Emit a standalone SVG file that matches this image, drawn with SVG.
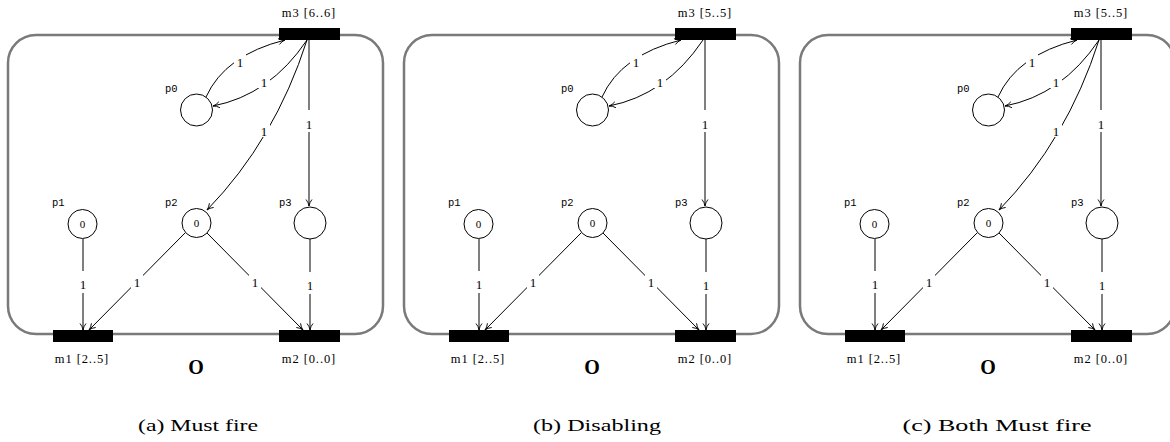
<svg xmlns="http://www.w3.org/2000/svg" width="1170" height="442" viewBox="0 0 1170 442">
<defs>
<marker id="arr" viewBox="0 0 8 8" refX="7.5" refY="4" markerWidth="8" markerHeight="8" markerUnits="userSpaceOnUse" orient="auto">
<path d="M1,1 Q4,3.5 7.5,4 Q4,4.5 1,7" fill="none" stroke="#000" stroke-width="0.9"/>
</marker>
<style>
.box{fill:none;stroke:#7a7a7a;stroke-width:2.5}
.tr{fill:#000;stroke:none}
.pl{fill:#fff;stroke:#000;stroke-width:1}
.arc{fill:none;stroke:#000;stroke-width:1;marker-end:url(#arr)}
.w{font-family:"Liberation Serif",serif;font-size:13px;text-anchor:middle;fill:#000}
.bg{fill:#fff}
.tl{font-family:"Liberation Serif",serif;font-size:12.5px;text-anchor:middle;fill:#000;letter-spacing:0.9px}
.pn{font-family:"Liberation Mono",monospace;font-size:10.5px;fill:#000}
.tk{font-family:"Liberation Serif",serif;font-size:11px;text-anchor:middle;fill:#000}
.O{font-family:"Liberation Serif",serif;font-size:20px;font-weight:bold;text-anchor:middle;fill:#000}
.cap{font-family:"Liberation Serif",serif;font-size:17px;text-anchor:middle;fill:#000}
</style>
</defs>

<!-- Panel a -->
<g id="panel-a">
<rect class="box" x="8" y="35" width="375" height="299" rx="28"/>
<g id="a-connectors">
<path class="arc" d="M206,97 Q225,55 285,40"/>
<path class="arc" d="M307,40 Q270,95 213,106"/>
<path class="arc" d="M307,40 Q275,140 207,210"/>
<path class="arc" d="M309,40 L309,206"/>
<path class="arc" d="M83,239 L83,330"/>
<path class="arc" d="M185,233 L89,330"/>
<path class="arc" d="M207,233 L303,330"/>
<path class="arc" d="M310,239 L310,330"/>
<rect class="bg" x="234" y="53" width="12" height="15"/><text class="w" x="240" y="67">1</text>
<rect class="bg" x="258" y="73" width="12" height="15"/><text class="w" x="264" y="87">1</text>
<rect class="bg" x="258" y="122" width="12" height="15"/><text class="w" x="264" y="136">1</text>
<rect class="bg" x="303" y="110" width="12" height="22"/><text class="w" x="309" y="129">1</text>
<rect class="bg" x="77" y="271" width="12" height="22"/><text class="w" x="83" y="289">1</text>
<rect class="bg" x="131" y="273" width="12" height="15"/><text class="w" x="137" y="287">1</text>
<rect class="bg" x="249" y="273" width="12" height="15"/><text class="w" x="255" y="287">1</text>
<rect class="bg" x="304" y="272" width="12" height="22"/><text class="w" x="310" y="290">1</text>
</g>
<g id="a-m3"><rect class="tr" x="279" y="28" width="61" height="12"/><text class="tl" x="309" y="17">m3 [6..6]</text></g>
<g id="a-m1"><rect class="tr" x="53" y="330" width="60" height="12"/><text class="tl" x="82" y="363">m1 [2..5]</text></g>
<g id="a-m2"><rect class="tr" x="279" y="330" width="61" height="12"/><text class="tl" x="309" y="363">m2 [0..0]</text></g>
<g id="a-p0"><circle class="pl" cx="196.5" cy="110" r="16"/><text class="pn" x="165" y="92">p0</text></g>
<g id="a-p1"><circle class="pl" cx="82.5" cy="224" r="14.5"/><text class="tk" x="82.5" y="228">0</text><text class="pn" x="52" y="206">p1</text></g>
<g id="a-p2"><circle class="pl" cx="196.5" cy="223" r="14.5"/><text class="tk" x="196.5" y="227">0</text><text class="pn" x="165" y="206">p2</text></g>
<g id="a-p3"><circle class="pl" cx="310" cy="223" r="16"/><text class="pn" x="279" y="206">p3</text></g>
<text class="O" x="196" y="374">O</text>
<text class="cap" x="198" y="431" textLength="120" lengthAdjust="spacingAndGlyphs">(a) Must fire</text>
</g>

<!-- Panel b -->
<g id="panel-b" transform="translate(396,0)">
<rect class="box" x="8" y="35" width="375" height="299" rx="28"/>
<g id="b-connectors">
<path class="arc" d="M206,97 Q225,55 285,40"/>
<path class="arc" d="M307,40 Q270,95 213,106"/>
<path class="arc" d="M309,40 L309,206"/>
<path class="arc" d="M83,239 L83,330"/>
<path class="arc" d="M185,233 L89,330"/>
<path class="arc" d="M207,233 L303,330"/>
<path class="arc" d="M310,239 L310,330"/>
<rect class="bg" x="234" y="53" width="12" height="15"/><text class="w" x="240" y="67">1</text>
<rect class="bg" x="258" y="73" width="12" height="15"/><text class="w" x="264" y="87">1</text>
<rect class="bg" x="303" y="110" width="12" height="22"/><text class="w" x="309" y="129">1</text>
<rect class="bg" x="77" y="271" width="12" height="22"/><text class="w" x="83" y="289">1</text>
<rect class="bg" x="131" y="273" width="12" height="15"/><text class="w" x="137" y="287">1</text>
<rect class="bg" x="249" y="273" width="12" height="15"/><text class="w" x="255" y="287">1</text>
<rect class="bg" x="304" y="272" width="12" height="22"/><text class="w" x="310" y="290">1</text>
</g>
<g id="b-m3"><rect class="tr" x="279" y="28" width="61" height="12"/><text class="tl" x="309" y="17">m3 [5..5]</text></g>
<g id="b-m1"><rect class="tr" x="53" y="330" width="60" height="12"/><text class="tl" x="82" y="363">m1 [2..5]</text></g>
<g id="b-m2"><rect class="tr" x="279" y="330" width="61" height="12"/><text class="tl" x="309" y="363">m2 [0..0]</text></g>
<g id="b-p0"><circle class="pl" cx="196.5" cy="110" r="16"/><text class="pn" x="165" y="92">p0</text></g>
<g id="b-p1"><circle class="pl" cx="82.5" cy="224" r="14.5"/><text class="tk" x="82.5" y="228">0</text><text class="pn" x="52" y="206">p1</text></g>
<g id="b-p2"><circle class="pl" cx="196.5" cy="223" r="14.5"/><text class="tk" x="196.5" y="227">0</text><text class="pn" x="165" y="206">p2</text></g>
<g id="b-p3"><circle class="pl" cx="310" cy="223" r="16"/><text class="pn" x="279" y="206">p3</text></g>
<text class="O" x="196" y="374">O</text>
<text class="cap" x="201" y="431" textLength="128" lengthAdjust="spacingAndGlyphs">(b) Disabling</text>
</g>

<!-- Panel c -->
<g id="panel-c" transform="translate(792,0)">
<rect class="box" x="8" y="35" width="375" height="299" rx="28"/>
<g id="c-connectors">
<path class="arc" d="M206,97 Q225,55 285,40"/>
<path class="arc" d="M307,40 Q270,95 213,106"/>
<path class="arc" d="M307,40 Q275,140 207,210"/>
<path class="arc" d="M309,40 L309,206"/>
<path class="arc" d="M83,239 L83,330"/>
<path class="arc" d="M185,233 L89,330"/>
<path class="arc" d="M207,233 L303,330"/>
<path class="arc" d="M310,239 L310,330"/>
<rect class="bg" x="234" y="53" width="12" height="15"/><text class="w" x="240" y="67">1</text>
<rect class="bg" x="258" y="73" width="12" height="15"/><text class="w" x="264" y="87">1</text>
<rect class="bg" x="258" y="122" width="12" height="15"/><text class="w" x="264" y="136">1</text>
<rect class="bg" x="303" y="110" width="12" height="22"/><text class="w" x="309" y="129">1</text>
<rect class="bg" x="77" y="271" width="12" height="22"/><text class="w" x="83" y="289">1</text>
<rect class="bg" x="131" y="273" width="12" height="15"/><text class="w" x="137" y="287">1</text>
<rect class="bg" x="249" y="273" width="12" height="15"/><text class="w" x="255" y="287">1</text>
<rect class="bg" x="304" y="272" width="12" height="22"/><text class="w" x="310" y="290">1</text>
</g>
<g id="c-m3"><rect class="tr" x="279" y="28" width="61" height="12"/><text class="tl" x="309" y="17">m3 [5..5]</text></g>
<g id="c-m1"><rect class="tr" x="53" y="330" width="60" height="12"/><text class="tl" x="82" y="363">m1 [2..5]</text></g>
<g id="c-m2"><rect class="tr" x="279" y="330" width="61" height="12"/><text class="tl" x="309" y="363">m2 [0..0]</text></g>
<g id="c-p0"><circle class="pl" cx="196.5" cy="110" r="16"/><text class="pn" x="165" y="92">p0</text></g>
<g id="c-p1"><circle class="pl" cx="82.5" cy="224" r="14.5"/><text class="tk" x="82.5" y="228">0</text><text class="pn" x="52" y="206">p1</text></g>
<g id="c-p2"><circle class="pl" cx="196.5" cy="223" r="14.5"/><text class="tk" x="196.5" y="227">0</text><text class="pn" x="165" y="206">p2</text></g>
<g id="c-p3"><circle class="pl" cx="310" cy="223" r="16"/><text class="pn" x="279" y="206">p3</text></g>
<text class="O" x="196" y="374">O</text>
<text class="cap" x="205" y="431" textLength="189" lengthAdjust="spacingAndGlyphs">(c) Both Must fire</text>
</g>
</svg>
